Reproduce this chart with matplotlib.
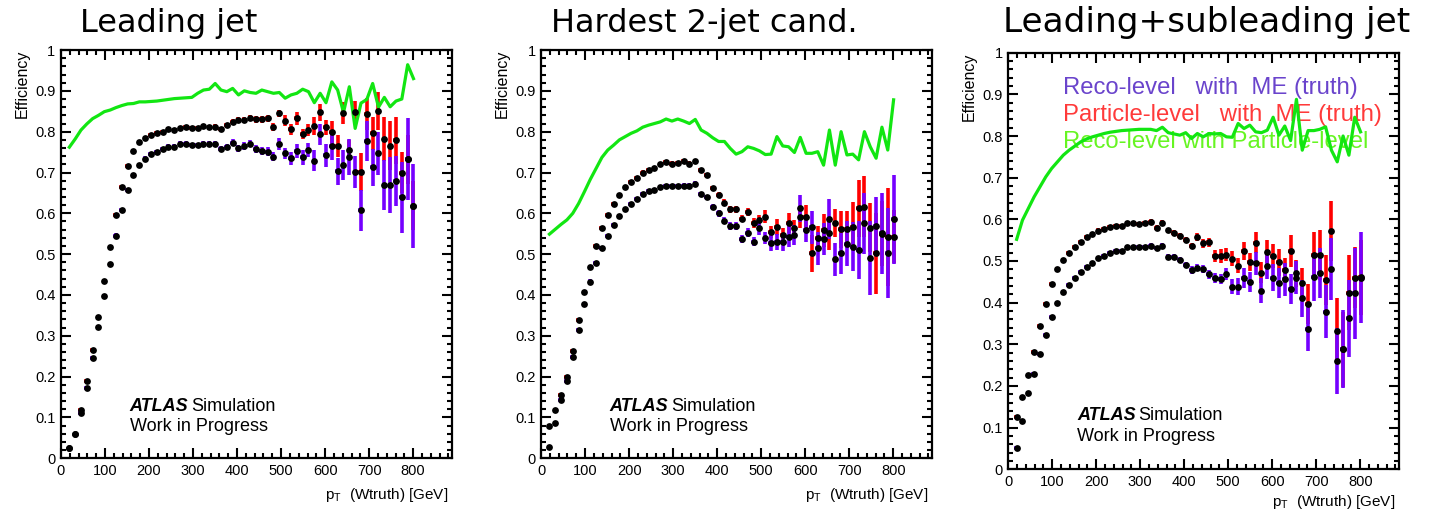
import numpy as np
import matplotlib
matplotlib.use("Agg")
import matplotlib.pyplot as plt
from matplotlib.ticker import MultipleLocator, FuncFormatter

# bin centres of the pT(Wtruth) histogram [GeV]
pt_bins = np.arange(60) * 13.25 + 19.0

titles = ["Leading jet", "Hardest 2-jet cand.", "Leading+subleading jet"]

# ---- panel 1: leading jet ----
part1 = [0.024, 0.060, 0.118, 0.189, 0.265, 0.347, 0.434, 0.518, 0.596, 0.665,
         0.717, 0.753, 0.774, 0.785, 0.792, 0.796, 0.800, 0.806, 0.804, 0.810,
         0.812, 0.810, 0.809, 0.814, 0.811, 0.812, 0.806, 0.816, 0.824, 0.829,
         0.829, 0.834, 0.830, 0.830, 0.833, 0.811, 0.845, 0.827, 0.806, 0.833,
         0.794, 0.804, 0.814, 0.847, 0.811, 0.798, 0.765, 0.845, 0.755, 0.847,
         0.701, 0.843, 0.796, 0.851, 0.781, 0.766, 0.779, 0.700, 0.733, 0.618]
part1_err = [0.003, 0.003, 0.004, 0.004, 0.004, 0.005, 0.005, 0.005, 0.005, 0.005,
             0.005, 0.005, 0.005, 0.005, 0.005, 0.005, 0.005, 0.005, 0.005, 0.005,
             0.005, 0.005, 0.005, 0.005, 0.006, 0.006, 0.006, 0.006, 0.007, 0.007,
             0.007, 0.008, 0.008, 0.008, 0.009, 0.010, 0.008, 0.013, 0.013, 0.016,
             0.012, 0.015, 0.022, 0.020, 0.018, 0.028, 0.028, 0.027, 0.025, 0.029,
             0.046, 0.039, 0.041, 0.046, 0.054, 0.060, 0.057, 0.050, 0.060, 0.060]
reco1 = [0.024, 0.060, 0.110, 0.173, 0.245, 0.321, 0.398, 0.475, 0.545, 0.608,
         0.656, 0.694, 0.718, 0.734, 0.745, 0.749, 0.757, 0.763, 0.763, 0.770,
         0.770, 0.767, 0.767, 0.770, 0.769, 0.771, 0.757, 0.763, 0.773, 0.759,
         0.765, 0.771, 0.758, 0.753, 0.751, 0.739, 0.770, 0.747, 0.735, 0.753,
         0.737, 0.755, 0.729, 0.794, 0.742, 0.765, 0.703, 0.718, 0.738, 0.702,
         0.607, 0.778, 0.713, 0.747, 0.669, 0.669, 0.680, 0.639, 0.733, 0.618]
reco1_err = [0.003, 0.003, 0.004, 0.004, 0.005, 0.005, 0.005, 0.005, 0.006, 0.006,
             0.006, 0.006, 0.006, 0.006, 0.006, 0.006, 0.006, 0.006, 0.006, 0.006,
             0.006, 0.006, 0.006, 0.007, 0.007, 0.007, 0.007, 0.008, 0.008, 0.008,
             0.009, 0.009, 0.010, 0.010, 0.011, 0.012, 0.015, 0.014, 0.016, 0.018,
             0.018, 0.018, 0.026, 0.026, 0.028, 0.035, 0.033, 0.037, 0.045, 0.039,
             0.051, 0.049, 0.045, 0.053, 0.061, 0.069, 0.061, 0.086, 0.100, 0.104]
green1 = [0.762, 0.782, 0.804, 0.819, 0.832, 0.840, 0.849, 0.853, 0.859, 0.864,
          0.868, 0.869, 0.873, 0.873, 0.874, 0.875, 0.877, 0.879, 0.881, 0.882,
          0.883, 0.884, 0.894, 0.902, 0.904, 0.918, 0.902, 0.898, 0.906, 0.890,
          0.900, 0.896, 0.894, 0.902, 0.898, 0.894, 0.896, 0.882, 0.890, 0.894,
          0.904, 0.898, 0.871, 0.894, 0.871, 0.922, 0.902, 0.847, 0.910, 0.808,
          0.870, 0.879, 0.918, 0.860, 0.884, 0.861, 0.875, 0.880, 0.964, 0.930]

# ---- panel 2: hardest 2-jet candidate ----
part2 = [0.079, 0.118, 0.155, 0.198, 0.263, 0.339, 0.408, 0.469, 0.521, 0.563,
         0.596, 0.622, 0.644, 0.664, 0.676, 0.687, 0.700, 0.706, 0.712, 0.720,
         0.726, 0.722, 0.724, 0.728, 0.722, 0.728, 0.706, 0.694, 0.661, 0.645,
         0.626, 0.610, 0.610, 0.587, 0.604, 0.576, 0.584, 0.592, 0.555, 0.566,
         0.547, 0.576, 0.563, 0.590, 0.590, 0.502, 0.539, 0.558, 0.551, 0.576,
         0.561, 0.561, 0.567, 0.612, 0.616, 0.565, 0.502, 0.550, 0.543, 0.543]
part2_err = [0.003, 0.004, 0.004, 0.005, 0.005, 0.005, 0.005, 0.005, 0.005, 0.005,
             0.005, 0.005, 0.005, 0.005, 0.005, 0.005, 0.005, 0.005, 0.005, 0.005,
             0.005, 0.005, 0.005, 0.005, 0.006, 0.006, 0.006, 0.006, 0.007, 0.007,
             0.008, 0.008, 0.009, 0.009, 0.010, 0.012, 0.012, 0.015, 0.015, 0.020,
             0.018, 0.025, 0.020, 0.025, 0.030, 0.045, 0.030, 0.040, 0.040, 0.035,
             0.045, 0.045, 0.060, 0.070, 0.075, 0.060, 0.100, 0.080, 0.120, 0.065]
reco2 = [0.027, 0.086, 0.143, 0.190, 0.247, 0.314, 0.378, 0.433, 0.479, 0.516,
         0.545, 0.571, 0.593, 0.610, 0.623, 0.634, 0.647, 0.655, 0.657, 0.665,
         0.668, 0.668, 0.668, 0.668, 0.668, 0.673, 0.647, 0.639, 0.615, 0.600,
         0.582, 0.569, 0.569, 0.538, 0.553, 0.531, 0.563, 0.539, 0.528, 0.529,
         0.529, 0.543, 0.547, 0.612, 0.559, 0.566, 0.514, 0.537, 0.586, 0.487,
         0.502, 0.525, 0.518, 0.510, 0.576, 0.490, 0.569, 0.551, 0.502, 0.585]
reco2_err = [0.003, 0.004, 0.004, 0.005, 0.005, 0.005, 0.005, 0.005, 0.005, 0.005,
             0.005, 0.005, 0.005, 0.005, 0.005, 0.005, 0.005, 0.005, 0.005, 0.005,
             0.005, 0.005, 0.005, 0.006, 0.006, 0.006, 0.006, 0.007, 0.007, 0.008,
             0.008, 0.009, 0.009, 0.010, 0.010, 0.012, 0.015, 0.015, 0.020, 0.020,
             0.022, 0.025, 0.025, 0.033, 0.030, 0.040, 0.040, 0.040, 0.050, 0.040,
             0.050, 0.055, 0.060, 0.070, 0.075, 0.090, 0.070, 0.100, 0.110, 0.110]
green2 = [0.549, 0.561, 0.573, 0.584, 0.600, 0.624, 0.653, 0.683, 0.710, 0.737,
          0.755, 0.767, 0.780, 0.788, 0.796, 0.802, 0.811, 0.816, 0.820, 0.824,
          0.831, 0.826, 0.831, 0.826, 0.820, 0.830, 0.804, 0.796, 0.785, 0.776,
          0.776, 0.759, 0.745, 0.751, 0.763, 0.759, 0.753, 0.744, 0.745, 0.788,
          0.765, 0.763, 0.749, 0.786, 0.747, 0.747, 0.751, 0.718, 0.804, 0.718,
          0.800, 0.743, 0.745, 0.731, 0.800, 0.763, 0.735, 0.811, 0.755, 0.878]

# ---- panel 3: leading + subleading jet ----
part3 = [0.125, 0.173, 0.226, 0.282, 0.344, 0.397, 0.445, 0.480, 0.502, 0.520,
         0.533, 0.546, 0.558, 0.565, 0.573, 0.576, 0.581, 0.584, 0.584, 0.592,
         0.590, 0.588, 0.590, 0.594, 0.580, 0.592, 0.574, 0.568, 0.560, 0.550,
         0.536, 0.557, 0.542, 0.545, 0.512, 0.512, 0.515, 0.505, 0.488, 0.524,
         0.497, 0.544, 0.472, 0.522, 0.512, 0.497, 0.478, 0.524, 0.470, 0.446,
         0.396, 0.515, 0.515, 0.454, 0.572, 0.332, 0.288, 0.424, 0.460, 0.461]
part3_err = [0.004, 0.005, 0.005, 0.005, 0.005, 0.005, 0.005, 0.005, 0.005, 0.005,
             0.005, 0.005, 0.005, 0.005, 0.005, 0.005, 0.005, 0.005, 0.005, 0.005,
             0.005, 0.005, 0.005, 0.006, 0.006, 0.006, 0.006, 0.007, 0.007, 0.008,
             0.008, 0.009, 0.010, 0.011, 0.015, 0.016, 0.016, 0.018, 0.018, 0.022,
             0.022, 0.026, 0.026, 0.028, 0.028, 0.032, 0.030, 0.038, 0.032, 0.036,
             0.048, 0.054, 0.060, 0.060, 0.071, 0.080, 0.090, 0.090, 0.073, 0.090]
reco3 = [0.050, 0.116, 0.182, 0.229, 0.277, 0.322, 0.366, 0.400, 0.425, 0.442,
         0.460, 0.474, 0.486, 0.496, 0.506, 0.512, 0.518, 0.524, 0.524, 0.534,
         0.534, 0.534, 0.533, 0.536, 0.530, 0.536, 0.510, 0.510, 0.502, 0.490,
         0.478, 0.484, 0.480, 0.468, 0.460, 0.457, 0.468, 0.438, 0.438, 0.458,
         0.450, 0.494, 0.428, 0.488, 0.460, 0.448, 0.456, 0.432, 0.460, 0.410,
         0.337, 0.462, 0.472, 0.378, 0.480, 0.260, 0.288, 0.362, 0.422, 0.460]
reco3_err = [0.004, 0.005, 0.005, 0.005, 0.005, 0.005, 0.005, 0.005, 0.005, 0.005,
             0.005, 0.005, 0.005, 0.005, 0.005, 0.005, 0.005, 0.005, 0.005, 0.005,
             0.005, 0.005, 0.006, 0.006, 0.006, 0.006, 0.007, 0.007, 0.008, 0.008,
             0.009, 0.009, 0.010, 0.011, 0.012, 0.012, 0.014, 0.018, 0.020, 0.024,
             0.024, 0.028, 0.030, 0.032, 0.032, 0.036, 0.040, 0.036, 0.040, 0.044,
             0.052, 0.058, 0.060, 0.064, 0.074, 0.080, 0.094, 0.092, 0.110, 0.110]
green3 = [0.552, 0.598, 0.626, 0.654, 0.678, 0.702, 0.722, 0.738, 0.754, 0.766,
          0.776, 0.786, 0.793, 0.798, 0.802, 0.806, 0.809, 0.811, 0.813, 0.814,
          0.815, 0.816, 0.816, 0.816, 0.813, 0.821, 0.808, 0.805, 0.802, 0.808,
          0.794, 0.806, 0.798, 0.806, 0.805, 0.806, 0.798, 0.797, 0.830, 0.818,
          0.826, 0.810, 0.808, 0.814, 0.845, 0.802, 0.824, 0.789, 0.888, 0.766,
          0.813, 0.813, 0.816, 0.822, 0.766, 0.738, 0.800, 0.754, 0.845, 0.810]

legend_labels = ["Reco-level   with  ME (truth)",
                 "Particle-level   with  ME (truth)",
                 "Reco-level with Particle-level"]

purple = "#7400ff"
red = "#ff0000"
lime = "#12e612"
root_font = "Liberation Sans"

panels = [
    (part1, part1_err, reco1, reco1_err, green1),
    (part2, part2_err, reco2, reco2_err, green2),
    (part3, part3_err, reco3, reco3_err, green3),
]

# axes rectangles in figure fractions (left, bottom, width, height)
rects = [(0.0426, 0.1049, 0.2732, 0.7974),
         (0.3781, 0.1049, 0.2732, 0.7974),
         (0.7046, 0.0834, 0.2730, 0.8137)]
title_x = [0.0559, 0.385, 0.7009]
title_size = [23, 23, 24.7]
xlabel_y = [-0.09, -0.09, -0.078]

fig = plt.figure(figsize=(14.31, 5.12), dpi=100)

for k, (part, part_err, reco, reco_err, green) in enumerate(panels):
    ax = fig.add_axes(rects[k])

    ax.errorbar(pt_bins, part, yerr=part_err, xerr=6, fmt="none",
                ecolor=red, elinewidth=2.6, capsize=0, zorder=2)
    ax.errorbar(pt_bins, reco, yerr=reco_err, xerr=6, fmt="none",
                ecolor=purple, elinewidth=2.6, capsize=0, zorder=3)
    ax.plot(pt_bins, green, color=lime, lw=2.3, zorder=4)
    ax.plot(pt_bins, part, "o", color="black", ms=4.9, mew=0, zorder=5)
    ax.plot(pt_bins, reco, "o", color="black", ms=4.9, mew=0, zorder=5)

    ax.set_xlim(0, 888)
    ax.set_ylim(0, 1)
    ax.xaxis.set_major_locator(MultipleLocator(100))
    ax.xaxis.set_minor_locator(MultipleLocator(20))
    ax.yaxis.set_major_locator(MultipleLocator(0.1))
    ax.yaxis.set_minor_locator(MultipleLocator(0.02))
    ax.xaxis.set_major_formatter(
        FuncFormatter(lambda v, p: "%d" % round(v) if v < 850 else ""))
    ax.yaxis.set_major_formatter(FuncFormatter(lambda v, p: "%g" % round(v, 2)))
    ax.tick_params(which="both", direction="in", top=True, right=True,
                   width=1.5, labelsize=10.5, pad=4)
    ax.tick_params(which="major", length=7.5)
    ax.tick_params(which="minor", length=3.7)
    for lab in ax.get_xticklabels() + ax.get_yticklabels():
        lab.set_fontfamily(root_font)
    for sp in ax.spines.values():
        sp.set_linewidth(1.6)

    ax.text(-0.1, 1.0, "Efficiency", transform=ax.transAxes, rotation=90,
            ha="center", va="top", fontsize=11.5, family=root_font)
    ax.text(0.99, xlabel_y[k], r"p$_{\mathregular{T}}$  (Wtruth) [GeV]",
            transform=ax.transAxes, ha="right", va="center",
            fontsize=11, family=root_font)

    t = ax.text(0.176, 0.128, "ATLAS", transform=ax.transAxes, ha="left",
                va="center", fontsize=13, family=root_font,
                fontweight="bold", fontstyle="italic")
    ax.annotate("Simulation", xy=(1, 0), xycoords=t, xytext=(2, 0),
                textcoords="offset points", ha="left", va="bottom",
                fontsize=13, family=root_font)
    ax.text(0.176, 0.079, "Work in Progress", transform=ax.transAxes,
            ha="left", va="center", fontsize=13, family=root_font)

    fig.text(title_x[k], 0.9375, titles[k], ha="left", va="baseline",
             fontsize=title_size[k], family="DejaVu Sans")

    if k == 2:
        for lab, col, yy in zip(legend_labels, ["#6a44cc", "#ff3a3a", "#66f522"],
                                [0.915, 0.850, 0.785]):
            ax.text(0.140, yy, lab, transform=ax.transAxes, ha="left",
                    va="center", fontsize=17.2, color=col, family=root_font,
                    zorder=1)

fig.savefig("out.png", dpi=100)
